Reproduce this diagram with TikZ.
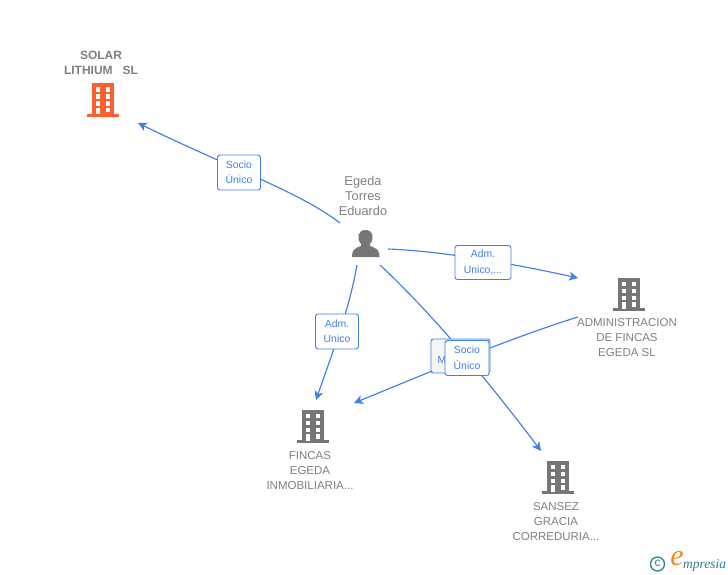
\documentclass[tikz,border=0pt]{standalone}
\usepackage{fontspec}
\setmainfont{Liberation Sans}
\newfontfamily\logofont{Liberation Serif}
\usetikzlibrary{arrows.meta}
\definecolor{linkblue}{HTML}{3F80E0}
\definecolor{labelgray}{HTML}{7F7F7F}
\definecolor{icongray}{HTML}{767676}
\definecolor{iconorange}{HTML}{FF5E2E}
\definecolor{logoteal}{HTML}{2F7F95}
\definecolor{logoorange}{HTML}{F08A1D}
\tikzset{
  link/.style={draw=linkblue,line width=1.15pt,-{Stealth[length=9pt,width=9pt,inset=2.5pt]}},
  relbox/.style={draw=linkblue,fill=white,rounded corners=2.5pt,line width=0.9pt,align=center,
    font=\fontsize{10.4}{15.5}\selectfont,text=linkblue,inner sep=0pt},
  namelabel/.style={align=center,text=labelgray,inner sep=0pt},
  firm/.style={namelabel,font=\fontsize{11.5}{15}\selectfont},
  building/.pic={
    \fill[pic actions] (-11,-16.5) rectangle (11,14);
    \fill[pic actions] (-16,14) rectangle (16,17);
    \foreach \row in {-12.5,-5.5,1.5} {
      \fill[white] (-7.5,\row) rectangle (-3,\row+4.5);
      \fill[white] (2.5,\row) rectangle (7,\row+4.5);
    }
    \fill[white] (-7.5,8) rectangle (-3,14.5);
    \fill[white] (2.5,8) rectangle (7,12.5);
  }
}
\begin{document}
\begin{tikzpicture}[x=1pt,y=-1pt]
\useasboundingbox (0,0) rectangle (728,575);

% firm nodes
\node[firm,font=\bfseries\fontsize{12}{15}\selectfont] (solar) at (101,63) {SOLAR\\LITHIUM\ \ \ SL};
\pic[fill=iconorange] at (103,100) {building};
\node[firm] (admin) at (627,338) {ADMINISTRACION\\DE FINCAS\\EGEDA SL};
\pic[fill=icongray] at (629,294) {building};
\node[firm] (fincas) at (310,471) {FINCAS\\EGEDA\\INMOBILIARIA...};
\pic[fill=icongray] at (313,426) {building};
\node[firm] (sansez) at (556,522) {SANSEZ\\GRACIA\\CORREDURIA...};
\pic[fill=icongray] at (558,477) {building};

% person
\node[namelabel,font=\fontsize{12.8}{15}\selectfont] (egeda) at (363,196) {Egeda\\Torres\\Eduardo};
\fill[icongray] (352,257) .. controls (352,250) and (354,248.5) .. (361,246)
  -- (361,244) .. controls (356,238) and (358,230) .. (365.5,230)
  .. controls (373,230) and (375,238) .. (370,244) -- (370,246)
  .. controls (377,248.5) and (379.5,250) .. (379.5,257) -- cycle;

% free ends of the links
\coordinate (p1) at (340,223);
\coordinate (p2) at (388,249);
\coordinate (p3) at (357,265);
\coordinate (p4) at (380,265);
\coordinate (a1) at (138,123);
\coordinate (a2) at (578,278);
\coordinate (a3) at (316,400);
\coordinate (a4) at (541,451);
\coordinate (a5) at (354,403);
\coordinate (s5) at (578,317);

% links
\draw[link] (p1) .. controls (300,192) and (230,168) .. (a1);
\draw[link] (p2) .. controls (440,251) and (510,263) .. (a2);
\draw[link] (p3) .. controls (349,310) and (335,345) .. (a3);
\draw[link] (p4) .. controls (425,307) and (480,370) .. (a4);
\draw[link] (s5) .. controls (510,338) and (430,372) .. (a5);

% link labels
\node[relbox,minimum width=43pt,minimum height=35pt] (b1) at (239,172.5) {Socio\\Único};
\node[relbox,minimum width=56pt,minimum height=34pt] (b2) at (483,262.5) {Adm.\\Unico,...};
\node[relbox,minimum width=43pt,minimum height=35pt] (b3) at (337,331.5) {Adm.\\Unico};
\node[relbox,minimum width=59pt,minimum height=34pt,fill=white!96!black] (b4) at (460.5,356) {\\\hspace*{-37pt}M};
\node[relbox,minimum width=44pt,minimum height=35pt] (b5) at (467,358) {Socio\\Único};

% logo
\draw[logoteal,line width=1.3pt] (657.5,564) circle (7pt);
\node[text=logoteal,inner sep=0pt,font=\fontsize{12}{12}\selectfont] (copy) at (657.5,563.5) {c};
\node[text=logoorange,inner sep=0pt,font=\logofont\itshape\fontsize{30}{30}\selectfont] (loge) at (677,559) {e};
\node[text=logoteal,inner sep=0pt,anchor=west,font=\logofont\itshape\fontsize{13.5}{14}\selectfont] (logo) at (683,565) {mpresia};
\end{tikzpicture}
\end{document}
